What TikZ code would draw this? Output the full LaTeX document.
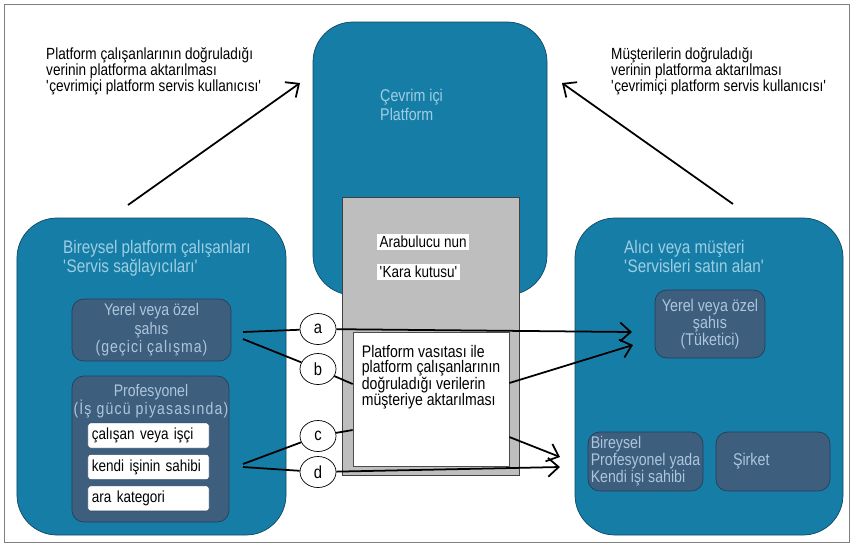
\documentclass[tikz,border=0pt]{standalone}
\usepackage{fontspec}
\setmainfont{Liberation Sans}[FakeStretch=0.84]
\usetikzlibrary{arrows.meta, positioning, shapes.geometric}
\definecolor{platblue}{RGB}{22,126,166}
\definecolor{platedge}{RGB}{12,72,102}
\definecolor{innerslate}{RGB}{62,94,126}
\definecolor{slateedge}{RGB}{38,62,92}
\definecolor{lighttext}{RGB}{158,206,228}
\definecolor{slatetext}{RGB}{172,198,220}
\definecolor{boxgray}{RGB}{190,190,190}

\begin{document}
\begin{tikzpicture}[x=0.03cm, y=-0.03cm,
  bigbox/.style={rectangle, rounded corners=1.2cm, draw=platedge, fill=platblue, line width=0.6pt},
  slatebox/.style={rectangle, rounded corners=0.35cm, draw=slateedge, fill=innerslate, line width=0.6pt,
                   text=slatetext, font=\fontsize{14.3}{15.8}\selectfont, align=center, inner sep=2pt},
  tagbox/.style={rectangle, rounded corners=2pt, draw=slateedge, fill=white, inner xsep=0.12cm,
                 text width=3.39cm, minimum height=0.75cm, align=left, font=\fontsize{13.7}{14}\selectfont},
  tagwhite/.style={rectangle, fill=white, inner sep=2pt, font=\fontsize{13.7}{14}\selectfont},
  titletext/.style={text=lighttext, align=left, inner sep=0pt, font=\fontsize{15.5}{16}\selectfont},
  notetext/.style={align=left, inner sep=0pt, font=\fontsize{13.8}{12.8}\selectfont},
  tagcirc/.style={ellipse, draw=black, fill=white, line width=0.6pt, minimum width=1.08cm,
                  minimum height=0.93cm, inner sep=0pt, font=\fontsize{15}{15}\selectfont},
  conn/.style={line width=1.5pt, black},
  arr/.style={conn, -{Straight Barb[length=9pt, width=16pt]}}
]
\useasboundingbox (0,0) rectangle (853,546);
\draw[gray, line width=0.8pt] (4,4) rectangle (849,542);

% platform and its black box
\node[bigbox, minimum width=7.02cm, minimum height=8.19cm] (platform) at (430,158.5) {};
\node[titletext, anchor=north west, font=\fontsize{14.5}{16}\selectfont] (platformlbl) at (380,89)
  {Çevrim içi\\Platform};
\node[rectangle, draw=gray!50!black, fill=boxgray, line width=0.6pt,
      minimum width=5.31cm, minimum height=8.34cm] (blackbox) at (430.5,336) {};
\node[rectangle, draw=gray!60!black, fill=white, line width=0.6pt,
      minimum width=4.68cm, minimum height=4.02cm] (transfer) at (431,399) {};
\node[notetext, anchor=north west, font=\fontsize{14.3}{12.8}\selectfont] (transferlbl)
  at ([shift={(9,13)}]transfer.north west)
  {Platform vasıtası ile\\platform çalışanlarının\\doğruladığı verilerin\\müşteriye aktarılması};
\node[tagwhite, anchor=west] (arabulucu) at (377,242) {Arabulucu nun};
\node[tagwhite, anchor=west] (karakutu) at (377,272) {\textquotesingle Kara kutusu\textquotesingle};

% service providers
\node[bigbox, minimum width=8.07cm, minimum height=9.51cm] (providers) at (151.5,376.5) {};
\node[titletext, anchor=north west] (providerslbl) at (63,240)
  {Bireysel platform çalışanları\\\textquotesingle Servis sağlayıcıları\textquotesingle};
\node[slatebox, minimum width=4.77cm, minimum height=1.86cm] (localL) at (151.5,330)
  {Yerel veya özel\\şahıs\\{\addfontfeature{LetterSpace=6}(geçici çalışma)}};
\node[slatebox, minimum width=4.71cm, minimum height=4.38cm] (prof) at (150.5,449) {};
\node[text=slatetext, align=center, inner sep=0pt, font=\fontsize{14.3}{15.5}\selectfont]
  (proflbl) at (151,401) {Profesyonel\\{\addfontfeature{LetterSpace=7}(İş gücü piyasasında)}};
\node[tagbox] (employee) at (148.5,435.5) {çalışan veya işçi};
\node[tagbox, below=0.18cm of employee] (selfemp) {kendi işinin sahibi};
\node[tagbox, below=0.18cm of selfemp] (intermed) {ara kategori};

% buyers
\node[bigbox, minimum width=8.04cm, minimum height=9.51cm] (buyers) at (709,376.5) {};
\node[titletext, anchor=north west] (buyerslbl) at (624,240)
  {Alıcı veya müşteri\\\textquotesingle Servisleri satın alan\textquotesingle};
\node[slatebox, minimum width=3.3cm, minimum height=2.04cm, font=\fontsize{14.5}{14.5}\selectfont]
  (consumer) at (710,324) {Yerel veya özel\\şahıs\\(Tüketici)};
\node[slatebox, minimum width=3.45cm, minimum height=1.77cm, align=left, inner sep=0pt,
      font=\fontsize{14.4}{13.2}\selectfont] (freelance)
  at (645.5,461.5) {Bireysel\\Profesyonel yada\\Kendi işi sahibi};
\node[slatebox, minimum width=3.42cm, minimum height=1.77cm, text width=2.4cm, align=left,
      font=\fontsize{14.5}{14.5}\selectfont] (company) at (773,461.5) {Şirket};

% notes and upward arrows
\node[notetext, anchor=north west] (providernote) at (46,47)
  {Platform çalışanlarının doğruladığı\\verinin platforma aktarılması\\\textquotesingle çevrimiçi platform servis kullanıcısı\textquotesingle};
\node[notetext, anchor=north west] (buyernote) at (611,47)
  {Müşterilerin doğruladığı\\verinin platforma aktarılması\\\textquotesingle çevrimiçi platform servis kullanıcısı\textquotesingle};
\coordinate (upL0) at (128,205);
\coordinate (upL1) at (300,83);
\coordinate (upR0) at (733,204);
\coordinate (upR1) at (562,83);
\draw[arr] (upL0) -- (upL1);
\draw[arr] (upR0) -- (upR1);

% channels a-d
\node[tagcirc] (ca) at (318,329) {a};
\node[tagcirc] (cb) at (318,369) {b};
\node[tagcirc] (cc) at (318,436) {c};
\node[tagcirc] (cd) at (318,472) {d};
\coordinate (sa) at (243,332);
\coordinate (sb) at (243,339);
\coordinate (sc) at (243,464);
\coordinate (sd) at (243,467);
\coordinate (bin)  at (transfer.west |- 0,384);
\coordinate (bout) at (transfer.east |- 0,383);
\coordinate (cin)  at (transfer.west |- 0,430);
\coordinate (cout) at (transfer.east |- 0,437);
\coordinate (ta) at (632,332);
\coordinate (tb) at (633,345);
\coordinate (tc) at (560,457);
\coordinate (td) at (560,467);
\draw[conn] (sa) -- (ca);
\draw[arr]  (ca) -- (ta);
\draw[conn] (sb) -- (cb);
\draw[conn] (cb) -- (bin);
\draw[arr]  (bout) -- (tb);
\draw[conn] (sc) -- (cc);
\draw[conn] (cc) -- (cin);
\draw[arr]  (cout) -- (tc);
\draw[conn] (sd) -- (cd);
\draw[arr]  (cd) -- (td);
\end{tikzpicture}
\end{document}
